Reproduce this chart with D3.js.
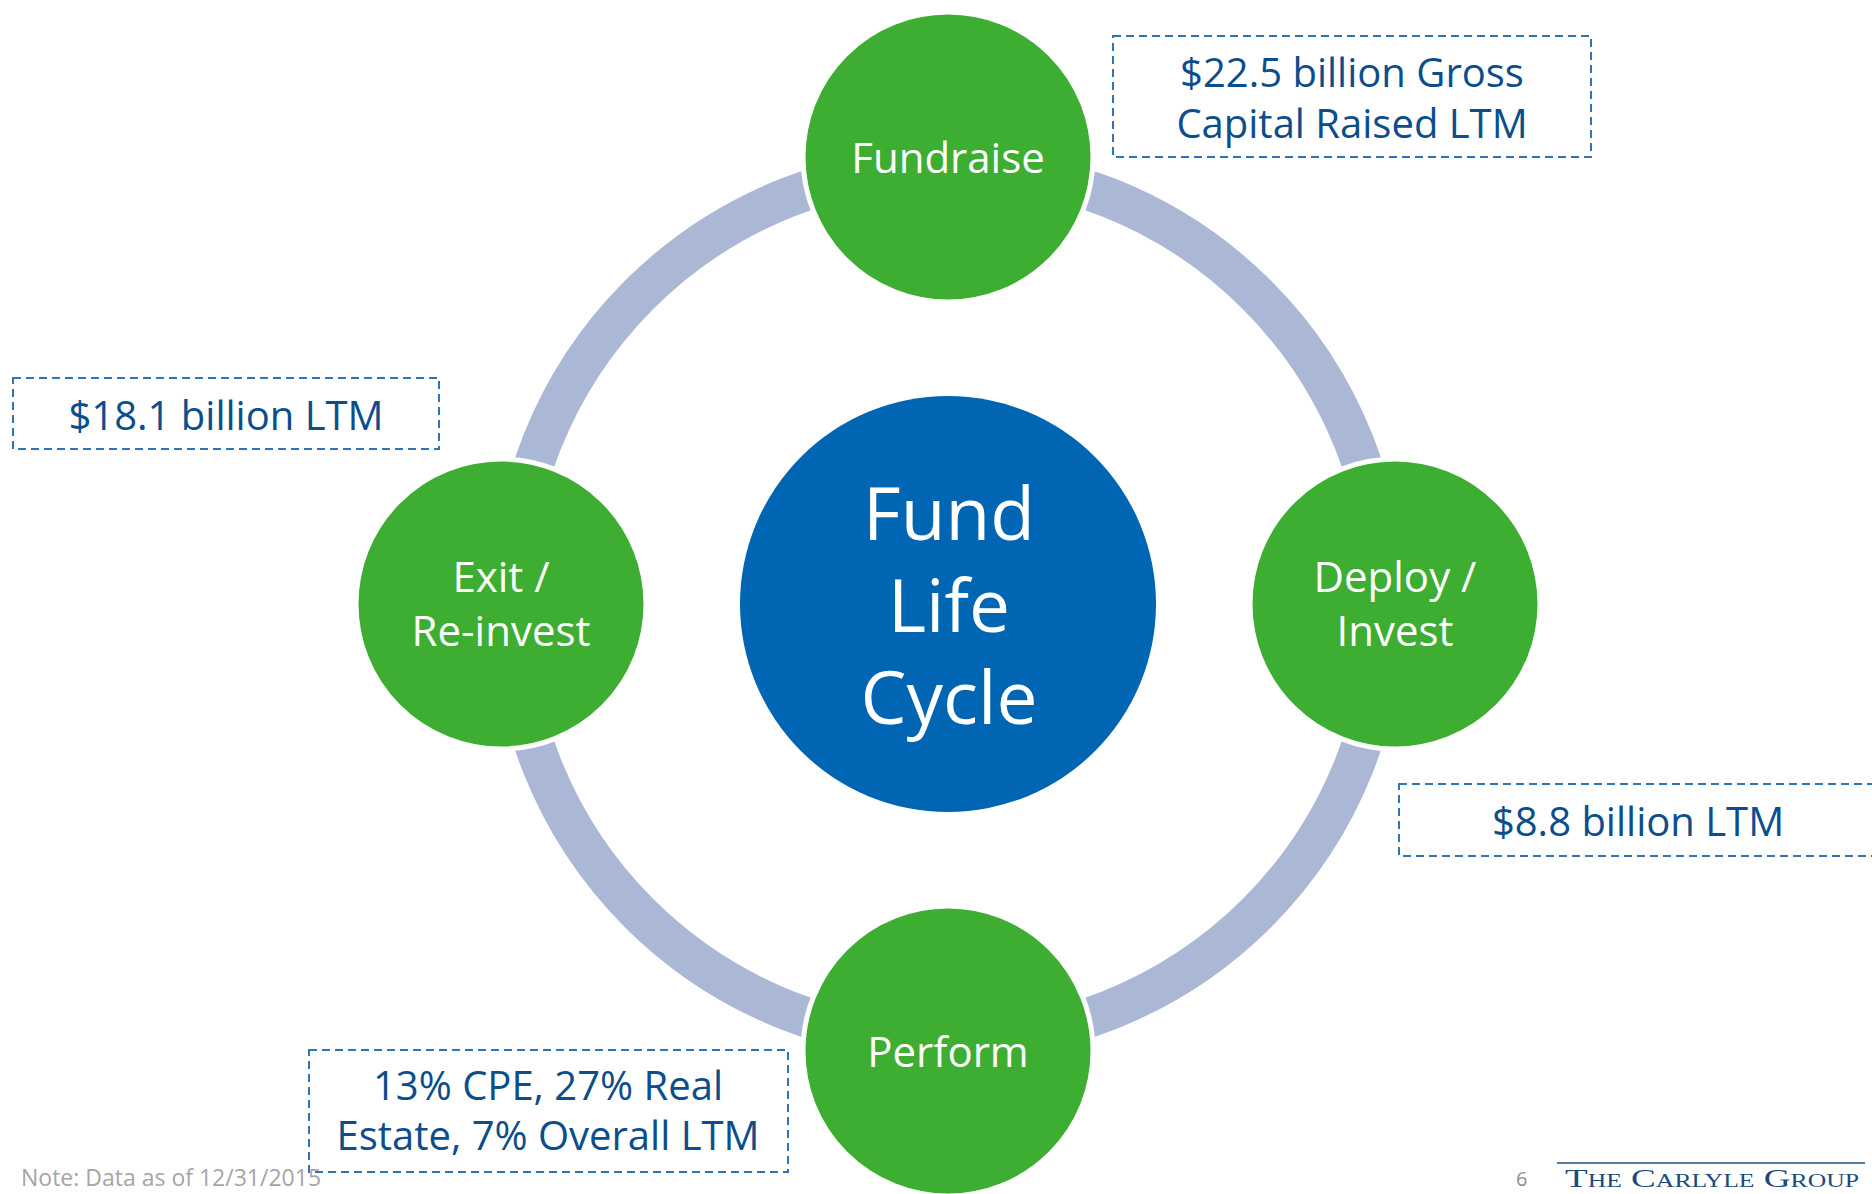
<!DOCTYPE html>
<html>
<head>
<meta charset="utf-8">
<script src="https://cdn.jsdelivr.net/npm/d3@7"></script>
<style>
  html, body { margin: 0; padding: 0; background: #ffffff; }
  svg { display: block; }
</style>
</head>
<body>
<div id="chart"></div>
<script>
// ---- data ----
const stages = ["Fundraise", "Deploy / Invest", "Perform", "Exit / Re-invest"];
const stageLines = [["Fundraise"], ["Deploy /", "Invest"], ["Perform"], ["Exit /", "Re-invest"]];
const calloutLines = [
  ["$22.5 billion Gross", "Capital Raised LTM"],
  ["$8.8 billion LTM"],
  ["13% CPE, 27% Real", "Estate, 7% Overall LTM"],
  ["$18.1 billion LTM"]
];
const centerLines = ["Fund", "Life", "Cycle"];
const footnote = "Note: Data as of 12/31/2015";
const pageNumber = "6";
const logoText = "The Carlyle Group";

// ---- layout ----
const W = 1872, H = 1194;
const cx = 948, cy = 604;
const ringR = 437, ringW = 40;
const nodeDist = 447, nodeR = 145;
const centerR = 208;
const calloutBoxes = [
  {x: 1113, y: 36, w: 478, h: 121, tx: 1352, ty: [87, 138]},
  {x: 1399, y: 784, w: 490, h: 72, tx: 1638, ty: [836]},
  {x: 309, y: 1050, w: 479, h: 122, tx: 548, ty: [1100, 1150]},
  {x: 13, y: 378, w: 426, h: 71, tx: 226, ty: [430]}
];
const FONT = "'Open Sans', 'Noto Sans', sans-serif";

const svg = d3.select("#chart").append("svg")
  .attr("width", W).attr("height", H)
  .attr("viewBox", `0 0 ${W} ${H}`);

svg.append("rect").attr("width", W).attr("height", H).attr("fill", "#ffffff");

// angle scale: clockwise from top
const angle = d3.scaleLinear().domain([0, stages.length]).range([0, 2 * Math.PI]);
const px = i => cx + nodeDist * Math.sin(angle(i));
const py = i => cy - nodeDist * Math.cos(angle(i));

// ring
svg.append("circle")
  .attr("cx", cx).attr("cy", cy).attr("r", ringR)
  .attr("fill", "none")
  .attr("stroke", "#AAB8D6")
  .attr("stroke-width", ringW);

// center circle
svg.append("circle")
  .attr("cx", cx).attr("cy", cy).attr("r", centerR)
  .attr("fill", "#0066B3");

const centerBase = [540, 632, 724];
svg.append("g").selectAll("text").data(centerLines).join("text")
  .attr("x", cx + 1)
  .attr("y", (d, i) => centerBase[i])
  .attr("text-anchor", "middle")
  .attr("font-family", FONT)
  .attr("font-size", 73)
  .attr("fill", "#ffffff")
  .text(d => d);

// stage nodes
const nodes = svg.append("g").selectAll("g").data(stages).join("g")
  .attr("transform", (d, i) => `translate(${px(i)},${py(i)})`);

nodes.append("circle")
  .attr("r", nodeR)
  .attr("fill", "#3DAE32")
  .attr("stroke", "#ffffff")
  .attr("stroke-width", 5);

nodes.each(function(d, i) {
  const lines = stageLines[i];
  const offs = lines.length === 1 ? [16] : [-12, 42];
  d3.select(this).selectAll("text").data(lines).join("text")
    .attr("x", 0)
    .attr("y", (t, j) => offs[j])
    .attr("text-anchor", "middle")
    .attr("font-family", FONT)
    .attr("font-size", 42)
    .attr("fill", "#ffffff")
    .text(t => t);
});

// callouts
const callouts = svg.append("g").selectAll("g").data(calloutLines).join("g");
callouts.append("rect")
  .attr("x", (d, i) => calloutBoxes[i].x)
  .attr("y", (d, i) => calloutBoxes[i].y)
  .attr("width", (d, i) => calloutBoxes[i].w)
  .attr("height", (d, i) => calloutBoxes[i].h)
  .attr("fill", "none")
  .attr("stroke", "#2F74B8")
  .attr("stroke-width", 2)
  .attr("stroke-dasharray", "8,5");

callouts.each(function(lines, i) {
  const b = calloutBoxes[i];
  d3.select(this).selectAll("text").data(lines).join("text")
    .attr("x", b.tx)
    .attr("y", (t, j) => b.ty[j])
    .attr("text-anchor", "middle")
    .attr("font-family", FONT)
    .attr("font-size", 40)
    .attr("fill", "#0C4E8C")
    .text(t => t);
});

// footer
svg.append("text")
  .attr("x", 21).attr("y", 1186)
  .attr("font-family", FONT)
  .attr("font-size", 23)
  .attr("fill", "#A6A6A6")
  .text(footnote);

svg.append("text")
  .attr("x", 1516).attr("y", 1186)
  .attr("font-family", FONT)
  .attr("font-size", 20)
  .attr("fill", "#8C8C8C")
  .text(pageNumber);

svg.append("line")
  .attr("x1", 1557).attr("x2", 1865)
  .attr("y1", 1163).attr("y2", 1163)
  .attr("stroke", "#1F4E79")
  .attr("stroke-width", 1.5);

svg.append("text")
  .attr("x", 1565).attr("y", 1187)
  .attr("font-family", "'Liberation Serif', 'DejaVu Serif', serif")
  .attr("font-size", 26)
  .attr("font-variant", "small-caps")
  .attr("fill", "#1B4B7C")
  .attr("textLength", 294)
  .attr("lengthAdjust", "spacingAndGlyphs")
  .text(logoText);
</script>
</body>
</html>
